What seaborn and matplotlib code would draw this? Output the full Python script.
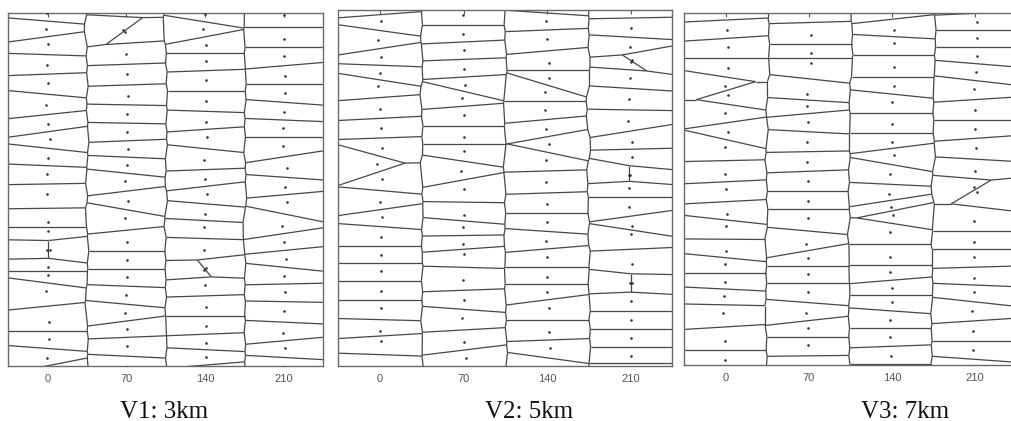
import numpy as np
import pandas as pd
import matplotlib
matplotlib.use("Agg")
import matplotlib.pyplot as plt
import seaborn as sns
from matplotlib.collections import LineCollection

# column positions (x axis) shared by all three panels
col_x = [0, 70, 140, 210]
tick_labels = ["0", "70", "140", "210"]
titles = ["V1: 3km", "V2: 5km", "V3: 7km"]
y_top = [353.3, 355.7, 352.3]

# V1 : y of every point per column, and its small x offset from the column
v1_y = [
    [353.3, 336.7, 321.7, 301.0, 282.7, 261.0, 241.7, 227.0, 208.3, 192.3, 171.7, 143.7, 135.0, 116.0, 116.0, 99.3, 91.0, 75.3, 44.3, 26.7, 8.3, -7.3],
    [362.7, 336.0, 333.7, 311.7, 291.7, 270.3, 252.0, 233.7, 216.7, 201.0, 184.7, 165.0, 147.7, 123.7, 106.0, 88.7, 71.0, 52.7, 37.0, 20.3, -0.7],
    [351.7, 337.0, 321.0, 305.0, 285.7, 265.0, 244.3, 229.0, 205.7, 187.0, 172.3, 152.0, 139.0, 116.0, 96.3, 97.7, 81.0, 59.3, 40.3, 23.3, 9.3, -7.3],
    [351.0, 327.0, 310.3, 290.3, 273.0, 254.3, 237.7, 220.3, 198.3, 179.0, 163.7, 140.3, 124.3, 107.0, 90.3, 73.7, 55.0, 32.7, 17.7, -0.7],
]
v1_dx = [
    [-0.6, -1.8, 0, -0.6, 0, -1.8, 0, 1.8, 0, -0.6, -0.3, 0, 0, -0.3, 1.8, 0, 0, -1.8, 0.9, 0.9, -0.3, 2.4],
    [-1.5, -2.7, -1.2, 0, 0.6, 1.2, 0.9, 0.6, 1.2, 0.6, -0.9, 1.2, -1.5, 0.6, 0.6, 0.6, 0, -1.5, 0.3, 0.9, 0],
    [0, -2.1, 0.6, 0.6, 1.2, 1.2, 0.6, 1.5, -0.6, 0, 1.5, 0, -0.6, -1.2, -0.9, 0.6, 0, 0.6, 0.6, 1.2, 0.6, 1.8],
    [0, 0, 0, 1.5, 1.5, 0.3, -0.3, -0.3, 2.7, 1.5, 2.7, -1.5, 0.6, 2.1, 0.6, 0.9, 0.6, -0.3, 0.9, 0],
]

# V2
v2_y = [
    [357.4, 344.7, 325.7, 308.4, 292.4, 279.4, 256.7, 238.0, 217.4, 201.7, 186.7, 163.4, 149.0, 129.0, 110.7, 94.7, 75.0, 57.4, 34.7, 24.7, -2.6],
    [350.7, 331.4, 316.0, 296.7, 280.7, 268.0, 250.7, 229.0, 214.7, 194.7, 176.4, 150.7, 139.0, 121.4, 111.4, 85.4, 65.4, 47.4, 24.0, 7.4],
    [360.7, 344.7, 326.7, 303.0, 288.0, 273.4, 255.4, 236.7, 221.4, 205.4, 184.0, 161.4, 144.0, 124.7, 108.7, 89.0, 74.0, 58.0, 34.0, 17.4, -2.0],
    [357.4, 338.0, 319.0, 303.7, 305.7, 288.0, 266.7, 245.0, 224.0, 209.0, 190.7, 190.7, 178.0, 159.0, 140.0, 131.4, 101.4, 82.4, 82.4, 64.7, 45.7, 27.4, 10.0, -5.3],
]
v2_dx = [
    [0, 0.8, -1.4, 0.8, 0.3, -1.4, 0, 0.8, 1.4, -2.2, 2.0, 0.3, 2.0, 0.8, 0.8, 0.8, 0.8, 0.8, 0.3, 0.8, 0],
    [-0.6, -0.6, 0, 0.6, 1.4, -1.1, 0, 0, 0, -2.5, 0.3, 0, -0.8, -0.6, 0, -0.6, 0, -1.1, 0, 1.7],
    [0.3, -0.6, 0, 1.7, 1.7, -2.0, -2.0, -0.6, 1.7, -1.1, -0.6, 0, 0, -1.1, 0, 0, 0, 1.7, 1.7, 2.2, 0],
    [0, 0.3, -0.6, 0.3, 1.4, -0.6, -1.7, -2.0, 0.8, 1.1, -1.7, -0.3, -1.1, -1.1, 1.1, 0, 1.1, -0.6, 0.8, 0, 0, 0, 0, 0],
]

# V3
v3_y = [
    [355.0, 335.0, 318.3, 296.7, 279.0, 270.0, 251.7, 232.7, 218.0, 190.7, 175.7, 151.0, 139.0, 114.0, 100.7, 83.3, 68.7, 51.7, 24.3, 5.0],
    [355.0, 330.0, 312.3, 301.7, 270.7, 259.3, 243.3, 223.3, 203.3, 184.0, 164.3, 147.3, 121.0, 107.3, 91.0, 73.3, 51.7, 36.7, 20.0, -1.7],
    [356.7, 335.0, 321.7, 297.7, 279.0, 262.7, 240.7, 223.3, 210.0, 190.7, 170.7, 158.3, 150.0, 133.3, 108.3, 92.7, 76.7, 63.3, 45.0, 28.3, 9.0, -6.7],
    [360.0, 343.3, 326.7, 309.3, 293.3, 275.7, 255.0, 236.0, 217.3, 194.3, 178.3, 172.7, 144.0, 123.3, 108.3, 87.3, 72.7, 54.0, 34.0, 15.0, -3.3],
]
v3_dx = [
    [0, 0.8, 1.7, 1.7, -0.6, 1.7, -0.6, 1.7, -1.1, -0.6, 0, 1.1, 0, 0, -1.1, -1.1, -1.7, -2.0, -0.6, -0.6],
    [0.8, 1.4, 1.4, 1.4, -1.4, -2.0, -0.8, -1.7, -1.4, -0.8, -0.8, -0.8, -2.8, -0.8, -0.8, -0.8, -2.2, -0.8, -0.8, -0.6],
    [0, 2.0, 1.4, 1.4, 1.4, 0, 0, 0, 1.4, -1.4, -2.2, -0.6, 0.8, -1.4, -1.4, -1.4, -0.3, -0.3, -1.4, -1.4, -0.8, -0.8],
    [1.1, 1.7, 1.7, 1.7, 0.6, -1.1, 0, 0, 1.1, 0, -1.1, 1.7, -1.1, -1.1, -1.1, -0.6, -1.1, -2.8, -1.7, -1.7, -2.8],
]

panels = [(v1_y, v1_dx), (v2_y, v2_dx), (v3_y, v3_dx)]


def make_df(ys, dxs):
    rows = []
    for cx, yy, dd in zip(col_x, ys, dxs):
        for y, d in zip(yy, dd):
            rows.append((cx + d, y))
    return pd.DataFrame(rows, columns=["x", "y"])


def clip(poly, n, c):
    # keep the part of a convex polygon where n.q <= c
    out = []
    k = len(poly)
    for i in range(k):
        p, q = poly[i], poly[(i + 1) % k]
        fp = n[0] * p[0] + n[1] * p[1] - c
        fq = n[0] * q[0] + n[1] * q[1] - c
        if fp <= 0:
            out.append(p)
        if fp * fq < 0:
            t = fp / (fp - fq)
            out.append((p[0] + t * (q[0] - p[0]), p[1] + t * (q[1] - p[1])))
    return out


def voronoi_segments(pts, box):
    # voronoi cells by half-plane clipping (pts in screen space),
    # each shared edge kept once
    x0, y0, x1, y1 = box
    segs = []
    for i in range(len(pts)):
        p = pts[i]
        d2 = ((pts - p) ** 2).sum(axis=1)
        poly = [(x0, y0, -1), (x1, y0, -1), (x1, y1, -1), (x0, y1, -1)]
        # vertices carry the index of the neighbour that made the edge after them
        edges = [(x0, y0), (x1, y0), (x1, y1), (x0, y1)]
        owner = [-1, -1, -1, -1]
        for j in np.argsort(d2)[1:]:
            if d2[j] < 1e-12:
                continue
            r = max((vx - p[0]) ** 2 + (vy - p[1]) ** 2 for vx, vy in edges)
            if d2[j] > 4 * r:
                break
            n = pts[j] - p
            m = (pts[j] + p) / 2
            c = n[0] * m[0] + n[1] * m[1]
            new_e, new_o = [], []
            k = len(edges)
            for a in range(k):
                pa, pb = edges[a], edges[(a + 1) % k]
                fa = n[0] * pa[0] + n[1] * pa[1] - c
                fb = n[0] * pb[0] + n[1] * pb[1] - c
                if fa <= 0:
                    new_e.append(pa)
                    new_o.append(owner[a] if fb <= 0 else owner[a])
                if fa * fb < 0:
                    t = fa / (fa - fb)
                    new_e.append((pa[0] + t * (pb[0] - pa[0]), pa[1] + t * (pb[1] - pa[1])))
                    new_o.append(j if fa <= 0 else owner[a])
            edges, owner = new_e, new_o
        for a in range(len(edges)):
            if owner[a] > i or owner[a] == -1:
                segs.append([edges[a], edges[(a + 1) % len(edges)]])
    return np.array(segs)


sns.set_theme(style="white")
plt.rcParams["font.family"] = ["Liberation Sans", "DejaVu Sans"]

W, H = 1011, 421
fig = plt.figure(figsize=(W / 100, H / 100), dpi=100)
fig.patch.set_facecolor("white")

# axes boxes in pixels: left, right, top, bottom
boxes = [(8.3, 323.0, 12.7, 366.0), (338.3, 672.3, 10.0, 365.7), (684.3, 1016.5, 12.7, 365.0)]
title_x = [164, 529, 905]

for k, ((ys, dxs), (l, r, t, b)) in enumerate(zip(panels, boxes)):
    ax = fig.add_axes([l / W, (H - b) / H, (r - l) / W, (b - t) / H])
    df = make_df(ys, dxs)
    ax.set_xlim(-35, 245)
    ax.set_ylim(0, y_top[k])

    disp = ax.transData.transform(df[["x", "y"]].to_numpy())
    bb = ax.bbox
    segs = voronoi_segments(disp, (bb.x0 - 60, bb.y0 - 60, bb.x1 + 60, bb.y1 + 60))
    inv = ax.transData.inverted()
    segs_data = inv.transform(segs.reshape(-1, 2)).reshape(-1, 2, 2)
    ax.add_collection(LineCollection(segs_data, colors="#474747", linewidths=0.9))

    sns.scatterplot(data=df, x="x", y="y", ax=ax, s=3.5, color="#333333",
                    linewidth=0, legend=False, zorder=3)

    ax.set_xticks(col_x)
    ax.set_xticklabels(tick_labels)
    ax.set_yticks([])
    ax.set_xlabel("")
    ax.set_ylabel("")
    ax.tick_params(axis="x", direction="in", length=3, width=0.8, top=True,
                   color="#555555", labelcolor="#555555", labelsize=8, pad=6)
    for s in ax.spines.values():
        s.set_color("#6a6a6a")
        s.set_linewidth(1.0)
    ax.set_facecolor("white")

    fig.text(title_x[k] / W, (H - 418) / H, titles[k], ha="center", va="baseline",
             fontsize=18, family=["Liberation Serif", "DejaVu Serif"], color="#111111")

fig.savefig("out.png", dpi=100)
